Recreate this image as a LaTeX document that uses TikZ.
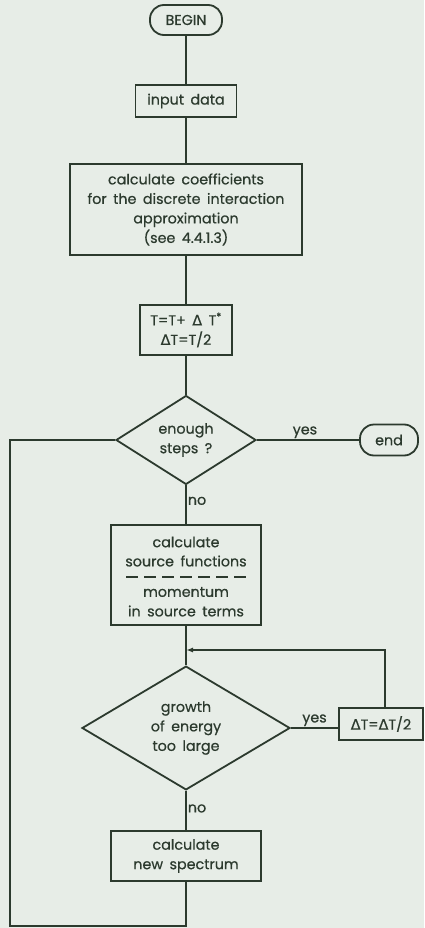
\documentclass[tikz,border=0pt]{standalone}
\usepackage{fontspec}
\setmainfont{Poppins}[FakeBold=0.6,WordSpace=1.7]
\newfontfamily\dvfont{DejaVu Sans}[FakeBold=0.4]
\usetikzlibrary{shapes.geometric,arrows.meta}
\definecolor{bgc}{HTML}{E7EDE7}
\definecolor{ink}{HTML}{2C3A2E}
\newcommand{\DD}{{\dvfont Δ}}
\begin{document}
\begin{tikzpicture}[x=1pt,y=-1pt,
  every node/.style={text=ink,font=\fontsize{14.3}{19.5}\selectfont},
  line/.style={draw=ink,line width=1.8pt},
  box/.style={line,rectangle,inner sep=0pt,align=center},
  term/.style={line,rectangle,rounded corners=14pt,inner sep=0pt,align=center},
  dec/.style={line,diamond,inner sep=0pt,align=center},
  lbl/.style={inner sep=1pt}]
\fill[bgc] (0,0) rectangle (424,928);
\useasboundingbox (0,0) rectangle (424,928);

\node[term,minimum width=72pt,minimum height=30pt] (begin) at (186,20) {BEGIN};
\node[box,minimum width=101pt,minimum height=32pt] (input) at (186,101) {input data};
\node[box,minimum width=232pt,minimum height=91pt] (coef) at (186,209.5) {calculate coefficients\\for the discrete interaction\\approximation\\(see 4.4.1.3)};
\node[box,minimum width=92pt,minimum height=50pt] (tstep) at (186,330) {T=T+ \DD\ T\textsuperscript{*}\\\DD T=T/2};
\node[dec,minimum width=140pt,minimum height=66pt] (enough) at (186,440) {enough\\steps ?};
\node[term,minimum width=58pt,minimum height=31pt] (end) at (389,440) {end};
\node[box,minimum width=150pt,minimum height=100pt] (source) at (186,575) {};
\node (s1) at (186,542) {calculate};
\node (s2) at (186,561) {source functions};
\node (s3) at (186,592) {momentum};
\node (s4) at (186,611) {in source terms};
\coordinate (dl) at (126,577);
\coordinate (dr) at (248,577);
\draw[draw=ink,line width=1.8pt,dash pattern=on 12pt off 6pt] (dl) -- (dr);
\coordinate (junc) at (186,650);
\node[dec,minimum width=208pt,minimum height=106pt] (growth) at (186,728) {growth\\of energy\\too large};
\node[box,minimum width=84pt,minimum height=32pt] (half) at (381,724) {\DD T=\DD T/2};
\node[box,minimum width=150pt,minimum height=50pt] (spec) at (186,856) {calculate\\new spectrum};
\coordinate (c1) at (385,650);
\coordinate (bl) at (10,926);
\coordinate (br) at (186,926);
\coordinate (tl) at (10,440);

\draw[line] (begin) -- (input);
\draw[line] (input) -- (coef);
\draw[line] (coef) -- (tstep);
\draw[line] (tstep) -- (enough);
\draw[line] (enough) -- node[lbl,above,pos=0.47] {yes} (end);
\draw[line] (enough) -- node[lbl,right,pos=0.4] {no} (source);
\draw[line] (source) -- (growth.north);
\draw[line] (growth.east) -- node[lbl,above] {yes} (growth.east -| half.west);
\draw[line,-{Latex[length=7pt,width=5pt]}] (half.north -| c1) -- (c1) -- (junc);
\draw[line] (growth.south) -- node[lbl,right,pos=0.45] {no} (spec.north);
\draw[line] (spec.south) -- (br) -- (bl) -- (tl) -- (enough.west);
\end{tikzpicture}
\end{document}
